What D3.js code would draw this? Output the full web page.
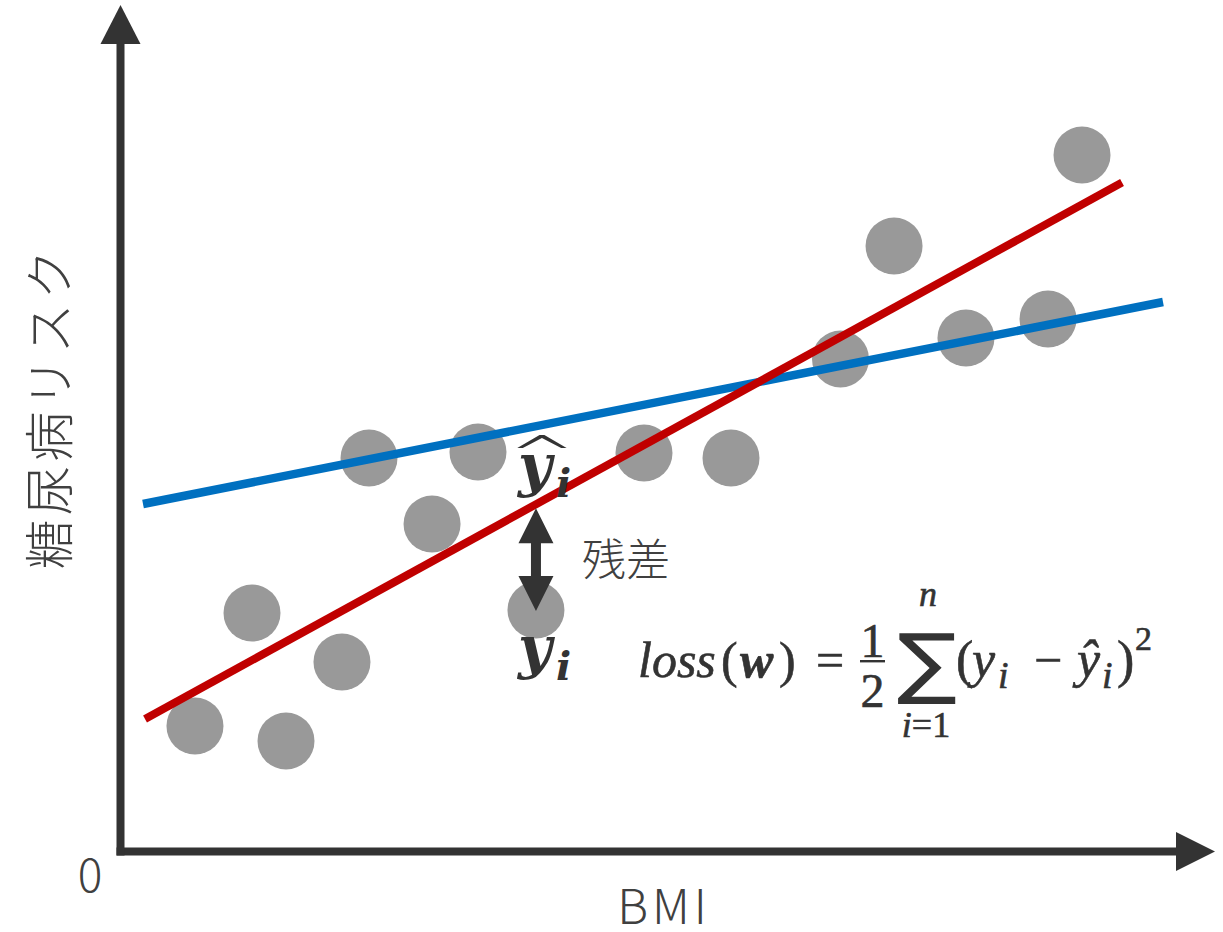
<!DOCTYPE html>
<html>
<head>
<meta charset="utf-8">
<script src="https://cdn.jsdelivr.net/npm/d3@7/dist/d3.min.js"></script>
<style>
  html, body { margin: 0; padding: 0; background: #fff; }
  svg { display: block; }
</style>
</head>
<body>
<svg id="chart" width="1223" height="932"></svg>
<script>
// ---- data (BMI vs diabetes risk, arbitrary units 0-100) ----
const bmi  = [7.10, 12.50, 15.72, 21.02, 23.58, 29.55, 33.90, 39.39, 49.62, 57.86, 68.23, 73.30, 80.11, 87.88, 91.10];
const risk = [15.49, 29.49, 13.63, 23.42, 48.70, 40.52, 49.44, 29.86, 49.32, 48.70, 60.97, 74.97, 63.57, 65.92, 86.25];

// fitted line (red) and poor line (blue): [x, y] end points
const redLineX  = [2.37, 94.89];
const redLineY  = [16.36, 82.84];
const blueLineX = [2.18, 98.77];
const blueLineY = [43.0, 68.03];

// highlighted residual: index of the point
const residualIndex = 7;

const xLabel = "BMI";
const yLabel = "糖尿病リスク";
const originLabel = "0";
const residualLabel = "残差";

// ---- setup ----
const svg = d3.select("#chart");
const axisColor = "#333333";
const textColor = "#404040";
const jpFont = "'Noto Sans CJK JP', 'Noto Sans', sans-serif";
const mathFont = "'Liberation Serif', 'DejaVu Serif', serif";
const boldMathFont = "'DejaVu Serif', serif";

const x = d3.scaleLinear().domain([0, 100]).range([120, 1176]);
const y = d3.scaleLinear().domain([0, 100]).range([851, 44]);

// ---- points ----
svg.append("g").selectAll("circle")
  .data(bmi.map((b, i) => ({ b, r: risk[i] })))
  .join("circle")
  .attr("cx", d => x(d.b))
  .attr("cy", d => y(d.r))
  .attr("r", 28.5)
  .attr("fill", "#999999");

// ---- lines ----
const lineGen = d3.line().x(d => x(d[0])).y(d => y(d[1]));
svg.append("path")
  .datum(blueLineX.map((v, i) => [v, blueLineY[i]]))
  .attr("d", lineGen)
  .attr("fill", "none")
  .attr("stroke", "#0070C0")
  .attr("stroke-width", 8.5);
svg.append("path")
  .datum(redLineX.map((v, i) => [v, redLineY[i]]))
  .attr("d", lineGen)
  .attr("fill", "none")
  .attr("stroke", "#C00000")
  .attr("stroke-width", 8);

// ---- axes ----
const xAxisScale = x.copy().range([x.range()[0] - 4, x.range()[1] + 4]);
const yAxisScale = y.copy().range([y.range()[0] + 4, y.range()[1] - 4]);

const gx = svg.append("g")
  .attr("transform", `translate(0,${y(0)})`)
  .call(d3.axisBottom(xAxisScale).tickValues([]).tickSizeOuter(0));
gx.select(".domain").attr("stroke", axisColor).attr("stroke-width", 8);

const gy = svg.append("g")
  .attr("transform", `translate(${x(0)},0)`)
  .call(d3.axisLeft(yAxisScale).tickValues([]).tickSizeOuter(0));
gy.select(".domain").attr("stroke", axisColor).attr("stroke-width", 8);

// arrow heads
const xEnd = x(100), yAxisY = y(0) + 0.5;
svg.append("path")
  .attr("d", `M${xEnd},${yAxisY - 19.5}L${xEnd + 39},${yAxisY}L${xEnd},${yAxisY + 19.5}Z`)
  .attr("fill", axisColor);
const yEnd = y(100), xAxisX = x(0) + 0.5;
svg.append("path")
  .attr("d", `M${xAxisX - 20},${yEnd}L${xAxisX},${yEnd - 39}L${xAxisX + 20},${yEnd}Z`)
  .attr("fill", axisColor);

// ---- axis labels ----
svg.append("text")
  .attr("x", 90).attr("y", 892)
  .attr("text-anchor", "middle")
  .attr("font-family", jpFont).attr("font-weight", 300)
  .attr("font-size", 46).attr("fill", textColor)
  .text(originLabel);

svg.append("text")
  .attr("x", (x(0) + x(100)) / 2 + 16).attr("y", 924)
  .attr("text-anchor", "middle")
  .attr("font-family", jpFont).attr("font-weight", 300)
  .attr("font-size", 48).attr("letter-spacing", 4).attr("fill", textColor)
  .text(xLabel);

svg.append("text")
  .attr("transform", `translate(46,${(y(0) + y(100)) / 2 - 40}) rotate(-90)`)
  .attr("text-anchor", "middle")
  .attr("dominant-baseline", "central")
  .attr("font-family", jpFont).attr("font-weight", 300)
  .attr("font-size", 50).attr("letter-spacing", 4).attr("fill", textColor)
  .text(yLabel);

// ---- residual arrow ----
const rx = bmi[residualIndex];
const t = (rx - redLineX[0]) / (redLineX[1] - redLineX[0]);
const yHat = redLineY[0] + t * (redLineY[1] - redLineY[0]);
const cx = x(rx);
const y1 = y(yHat) + 4;
const y2 = y(risk[residualIndex]) + 1;
const hl = 35, hw = 17.5, sw = 5;
svg.append("path")
  .attr("d", [
    `M${cx},${y1}`,
    `L${cx + hw},${y1 + hl}`, `L${cx + sw},${y1 + hl}`,
    `L${cx + sw},${y2 - hl}`, `L${cx + hw},${y2 - hl}`,
    `L${cx},${y2}`,
    `L${cx - hw},${y2 - hl}`, `L${cx - sw},${y2 - hl}`,
    `L${cx - sw},${y1 + hl}`, `L${cx - hw},${y1 + hl}`, "Z"
  ].join(""))
  .attr("fill", axisColor);

svg.append("text")
  .attr("x", cx + 90).attr("y", 557)
  .attr("text-anchor", "middle")
  .attr("dominant-baseline", "central")
  .attr("font-family", jpFont).attr("font-weight", 300)
  .attr("font-size", 44).attr("fill", textColor)
  .text(residualLabel);

// helper: fit a text element into a box
function fitText(sel, bx, by, bw, bh) {
  const bb = sel.node().getBBox();
  const sx = bw / bb.width, sy = bh / bb.height;
  sel.attr("transform", `translate(${bx},${by}) scale(${sx},${sy}) translate(${-bb.x},${-bb.y})`);
}

// ---- y-hat and y labels ----
const lblX = cx - 18;
svg.append("text")
  .attr("x", lblX).attr("y", 485)
  .attr("font-family", boldMathFont).attr("font-style", "italic").attr("font-weight", "bold")
  .attr("font-size", 58).attr("fill", axisColor)
  .text("y");
svg.append("text")
  .attr("x", lblX + 38).attr("y", 497)
  .attr("font-family", boldMathFont).attr("font-style", "italic").attr("font-weight", "bold")
  .attr("font-size", 40).attr("fill", axisColor)
  .text("i");
// wide hat over y
svg.append("text")
  .attr("transform", `translate(${lblX + 24},470) scale(1.5,0.85)`)
  .attr("text-anchor", "middle")
  .attr("font-family", "'DejaVu Sans', sans-serif").attr("font-weight", 300)
  .attr("font-size", 56).attr("fill", axisColor)
  .text("^");

svg.append("text")
  .attr("x", lblX).attr("y", 667)
  .attr("font-family", boldMathFont).attr("font-style", "italic").attr("font-weight", "bold")
  .attr("font-size", 58).attr("fill", axisColor)
  .text("y");
svg.append("text")
  .attr("x", lblX + 38).attr("y", 680)
  .attr("font-family", boldMathFont).attr("font-style", "italic").attr("font-weight", "bold")
  .attr("font-size", 40).attr("fill", axisColor)
  .text("i");

// ---- loss formula ----
const fg = svg.append("g").attr("fill", axisColor).attr("font-family", mathFont)
  .attr("stroke", axisColor).attr("stroke-width", 0.6);
function ft(txt, tx, ty, size, style, weight, anchor) {
  return fg.append("text")
    .attr("x", tx).attr("y", ty)
    .attr("font-size", size)
    .attr("font-style", style || "normal")
    .attr("font-weight", weight || "normal")
    .attr("text-anchor", anchor || "start")
    .text(txt);
}
const base = 677;
ft("loss", 638, base, 50, "italic");
ft("(", 721, base, 50);
ft("w", 740, base, 50, "italic", "bold");
ft(")", 779, base, 50);
ft("=", 830, base, 50, null, null, "middle");
ft("1", 872.5, 657, 48, null, null, "middle");
fg.append("rect").attr("x", 860).attr("y", 660).attr("width", 25).attr("height", 2.4).attr("stroke", "none");
ft("2", 872.5, 707, 48, null, null, "middle");
const sigma = fg.append("text").attr("font-family", "'DejaVu Sans', sans-serif").attr("font-size", 80)
  .attr("stroke", "none").text("∑");
fitText(sigma, 897, 617, 60, 90);
ft("n", 928, 606, 36, "italic", null, "middle");
const lim = ft("", 926, 737, 36, null, null, "middle");
lim.append("tspan").attr("font-style", "italic").text("i");
lim.append("tspan").text("=1");
ft("(", 956, base, 52);
ft("y", 972, base, 52, "italic");
ft("i", 998, 688, 38, "italic");
ft("−", 1048, base, 50, null, null, "middle");
ft("ŷ", 1077, base, 52, "italic");
ft("i", 1102, 688, 38, "italic");
ft(")", 1117, base, 52);
ft("2", 1135, 650, 34);
</script>
</body>
</html>
